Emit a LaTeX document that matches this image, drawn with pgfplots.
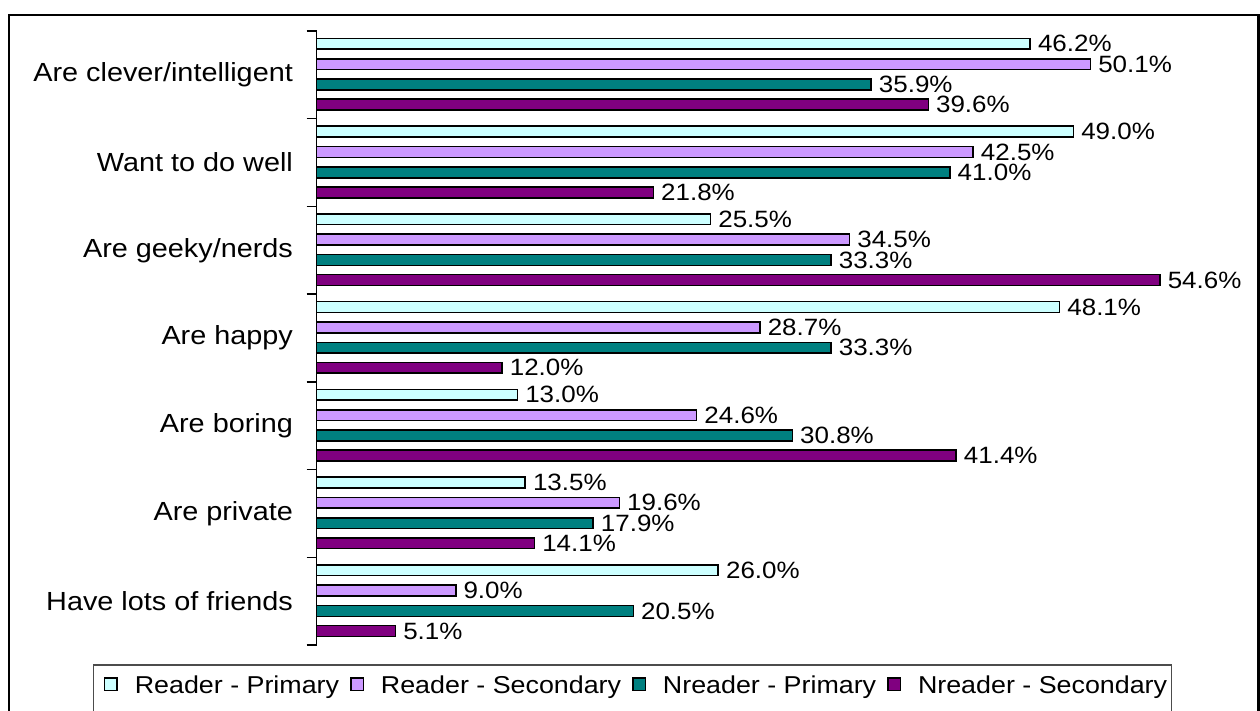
\documentclass[border=0pt]{standalone}
\usepackage{fontspec}
\setmainfont{Liberation Sans}
\usepackage{graphicx}
\usepackage{pgfplots}
\pgfplotsset{compat=1.18}
\definecolor{cA}{HTML}{CCFFFF}
\definecolor{cB}{HTML}{CC99FF}
\definecolor{cC}{HTML}{008080}
\definecolor{cD}{HTML}{800080}
\newcommand\sx[1]{\scalebox{1.1}[1]{#1}}
\begin{document}
\begin{tikzpicture}
\useasboundingbox (0,0) rectangle (630pt,355.5pt);
\fill[white] (0,0) rectangle (630pt,355.5pt);
\draw[line width=1.2pt] (4.5pt,-5pt) rectangle (629.3pt,348pt);
\draw[black!70,line width=0.6pt] (46.65pt,-5pt) rectangle (585.85pt,23pt);
\begin{axis}[
 at={(158.35pt,33pt)}, anchor=south west, scale only axis,
 width=463.35pt, height=307pt,
 xmin=0, xmax=60, ymin=-0.5, ymax=6.5,
 xbar, bar width=5.4pt,
 every axis plot post/.append style={legend image code/.code={\draw[##1,line width=0.7pt] (0pt,-1.9pt) rectangle (6.2pt,4.3pt);}},
 hide x axis, axis y line*=left,
 y axis line style={line width=0.75pt, black},
 ytick={0,...,6},
 yticklabels={\sx{Have lots of friends},\sx{Are private},\sx{Are boring},\sx{Are happy},\sx{Are geeky/nerds},\sx{Want to do well},\sx{Are clever/intelligent}},
 major tick length=0pt,
 minor ytick={-0.5,0.5,...,6.5},
 minor tick length=5pt,
 tick align=outside,
 tick style={line width=0.75pt, black},
 yticklabel style={font=\fontsize{13.1}{15}\selectfont, inner sep=0pt, xshift=-11.7pt},
 point meta=x,
 nodes near coords={\sx{\pgfmathprintnumber[fixed,fixed zerofill,precision=1,assume math mode=true]{\pgfplotspointmeta}\%}},
 nodes near coords style={font=\fontsize{11.8}{14}\selectfont, inner sep=0pt, anchor=west, xshift=3.5pt, black},
 legend columns=4,
 legend style={draw=none, fill=none, at={(-0.2295,-0.0676)}, anchor=west, inner sep=0pt, outer sep=0pt,
   font=\fontsize{12.2}{14}\selectfont, nodes={inner sep=0pt},
   /tikz/every odd column/.append style={column sep=8.5pt},
   /tikz/every even column/.append style={column sep=5.5pt}},
 clip=false,
]
\addplot[fill=cA, draw=black, line width=0.8pt, bar shift=15.5pt] coordinates {(46.2,6) (49.0,5) (25.5,4) (48.1,3) (13.0,2) (13.5,1) (26.0,0)};
\addplot[fill=cB, draw=black, line width=0.8pt, bar shift=5.3pt] coordinates {(50.1,6) (42.5,5) (34.5,4) (28.7,3) (24.6,2) (19.6,1) (9.0,0)};
\addplot[fill=cC, draw=black, line width=0.8pt, bar shift=-4.9pt] coordinates {(35.9,6) (41.0,5) (33.3,4) (33.3,3) (30.8,2) (17.9,1) (20.5,0)};
\addplot[fill=cD, draw=black, line width=0.8pt, bar shift=-14.9pt] coordinates {(39.6,6) (21.8,5) (54.6,4) (12.0,3) (41.4,2) (14.1,1) (5.1,0)};
\legend{\sx{Reader - Primary},\sx{Reader - Secondary},\sx{Nreader - Primary},\sx{Nreader - Secondary}}
\end{axis}
\end{tikzpicture}
\end{document}
